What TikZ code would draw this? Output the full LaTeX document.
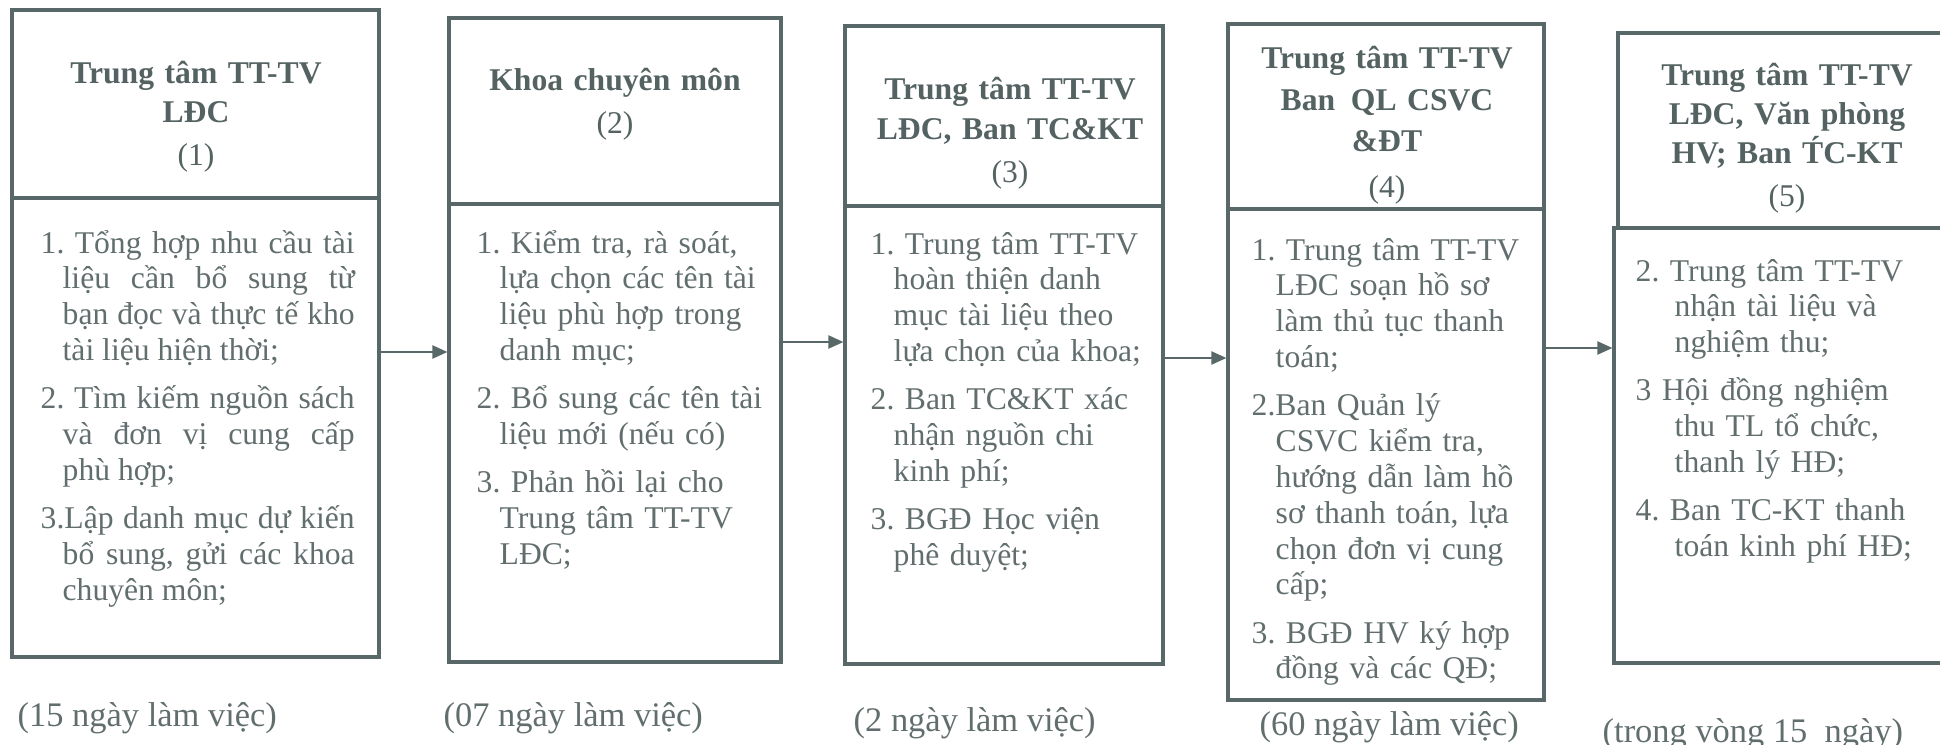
\documentclass[tikz,border=0pt]{standalone}
\usepackage{fontspec}
\setmainfont{Liberation Serif}
\usetikzlibrary{arrows.meta}
\definecolor{lncol}{RGB}{88,104,104}
\definecolor{txcol}{RGB}{98,110,110}
\definecolor{hdcol}{RGB}{84,98,98}
\setlength{\parindent}{0pt}
\frenchspacing
\tolerance=10000
\hbadness=10000
\hyphenpenalty=10000
\newcommand{\gap}{\par\vspace{3.5pt}}
\tikzset{
  box/.style={draw=lncol, line width=0.9pt, inner sep=0pt, rectangle},
  headtext/.style={text=hdcol, font=\fontsize{9}{11.1}\selectfont, align=center, inner sep=0pt, anchor=base, text width=3.3cm},
  bodytext/.style={text=txcol, font=\fontsize{9}{10.2}\selectfont, align=left, inner sep=0pt, anchor=base west},
  daytext/.style={text=txcol, font=\fontsize{9.8}{11}\selectfont, inner sep=0pt, anchor=base west},
  flow/.style={draw=lncol, line width=0.6pt, -{Triangle[length=0.15cm,width=0.13cm]}}
}
\begin{document}
\begin{tikzpicture}
    \useasboundingbox (0,0) rectangle (19.4,7.44);
    \clip (0,0) rectangle (19.4,7.44);

    % step 1: the library centre
    \node[box, minimum width=3.67cm, minimum height=1.88cm] (head1) at (1.955,6.40) {};
    \node[box, minimum width=3.67cm, minimum height=4.59cm] (body1) at (1.955,3.165) {};
    \node[headtext] (htext1) at (1.96,6.61) {{\bfseries Trung tâm TT-TV\\LĐC}\\[1.4pt](1)};
    \node[bodytext, text width=3.14cm, align=justify] (btext1) at (0.40,4.91) {%
        \hangindent=0.22cm 1. Tổng hợp nhu cầu tài\linebreak liệu cần bổ sung từ\linebreak bạn đọc và thực tế kho\linebreak tài liệu hiện thời;\gap
        \hangindent=0.22cm 2. Tìm kiếm nguồn sách\linebreak và đơn vị cung cấp\linebreak phù hợp;\gap
        \hangindent=0.22cm 3.Lập danh mục dự kiến\linebreak bổ sung, gửi các khoa\linebreak chuyên môn;\par};
    \node[daytext] (day1) at (0.17,0.18) {(15 ngày làm việc)};

    % step 2: the faculties
    \node[box, minimum width=3.32cm, minimum height=1.86cm] (head2) at (6.15,6.33) {};
    \node[box, minimum width=3.32cm, minimum height=4.58cm] (body2) at (6.15,3.11) {};
    \node[headtext] (htext2) at (6.15,6.54) {{\bfseries Khoa chuyên môn}\\[1.4pt](2)};
    \node[bodytext, text width=3.0cm] (btext2) at (4.76,4.91) {%
        \hangindent=0.23cm 1. Kiểm tra, rà soát,\newline lựa chọn các tên tài\newline liệu phù hợp trong\newline danh mục;\gap
        \hangindent=0.23cm 2. Bổ sung các tên tài\newline liệu mới (nếu có)\gap
        \hangindent=0.23cm 3. Phản hồi lại cho\newline Trung tâm TT-TV\newline LĐC;\par};
    \node[daytext] (day2) at (4.43,0.18) {(07 ngày làm việc)};

    % step 3: library centre and finance
    \node[box, minimum width=3.18cm, minimum height=1.80cm] (head3) at (10.04,6.28) {};
    \node[box, minimum width=3.18cm, minimum height=4.58cm] (body3) at (10.04,3.09) {};
    \node[headtext] (htext3) at (10.10,6.44) {{\bfseries Trung tâm TT-TV\\LĐC, Ban TC\&KT}\\[1.4pt](3)};
    \node[bodytext, text width=2.85cm] (btext3) at (8.70,4.90) {%
        \hangindent=0.23cm 1. Trung tâm TT-TV\newline hoàn thiện danh\newline mục tài liệu theo\newline lựa chọn của khoa;\gap
        \hangindent=0.23cm 2. Ban TC\&KT xác\newline nhận nguồn chi\newline kinh phí;\gap
        \hangindent=0.23cm 3. BGĐ Học viện\newline phê duyệt;\par};
    \node[daytext] (day3) at (8.53,0.13) {(2 ngày làm việc)};

    % step 4: contracts
    \node[box, minimum width=3.16cm, minimum height=1.85cm] (head4) at (13.86,6.275) {};
    \node[box, minimum width=3.16cm, minimum height=4.91cm] (body4) at (13.86,2.895) {};
    \node[headtext, font=\fontsize{9}{11.7}\selectfont] (htext4) at (13.87,6.75) {{\bfseries Trung tâm TT-TV\\Ban\enspace QL CSVC\\\&ĐT}\\[1.4pt](4)};
    \node[bodytext, text width=2.85cm] (btext4) at (12.51,4.84) {%
        \hangindent=0.24cm 1. Trung tâm TT-TV\newline LĐC soạn hồ sơ\newline làm thủ tục thanh\newline toán;\gap
        \hangindent=0.24cm 2.Ban Quản lý\newline CSVC kiểm tra,\newline hướng dẫn làm hồ\newline sơ thanh toán, lựa\newline chọn đơn vị cung\newline cấp;\gap
        \hangindent=0.24cm 3. BGĐ HV ký hợp\newline đồng và các QĐ;\par};
    \node[daytext] (day4) at (12.59,0.09) {(60 ngày làm việc)};

    % step 5: acceptance and payment
    \node[box, minimum width=3.44cm, minimum height=1.95cm] (head5) at (17.90,6.135) {};
    \node[box, minimum width=3.48cm, minimum height=4.35cm] (body5) at (17.88,2.985) {};
    \node[headtext] (htext5) at (17.87,6.59) {{\bfseries Trung tâm TT-TV\\LĐC, Văn phòng\\HV; Ban T́C-KT}\\[1.4pt](5)};
    \node[bodytext, text width=2.9cm] (btext5) at (16.35,4.63) {%
        \hangindent=0.39cm 2. Trung tâm TT-TV\newline nhận tài liệu và\newline nghiệm thu;\gap
        \hangindent=0.39cm 3 Hội đồng nghiệm\newline thu TL tổ chức,\newline thanh lý HĐ;\gap
        \hangindent=0.39cm 4. Ban TC-KT thanh\newline toán kinh phí HĐ;\par};
    \node[daytext] (day5) at (16.02,0.02) {(trong vòng 15\enspace ngày)};

    % arrows from one step to the next
    \draw[flow] ([yshift=0.755cm]body1.east) -- ([yshift=0.755cm]body1.east -| body2.west);
    \draw[flow] ([yshift=0.91cm]body2.east) -- ([yshift=0.91cm]body2.east -| body3.west);
    \draw[flow] ([yshift=0.77cm]body3.east) -- ([yshift=0.77cm]body3.east -| body4.west);
    \draw[flow] ([yshift=1.065cm]body4.east) -- ([yshift=1.065cm]body4.east -| body5.west);
\end{tikzpicture}
\end{document}
